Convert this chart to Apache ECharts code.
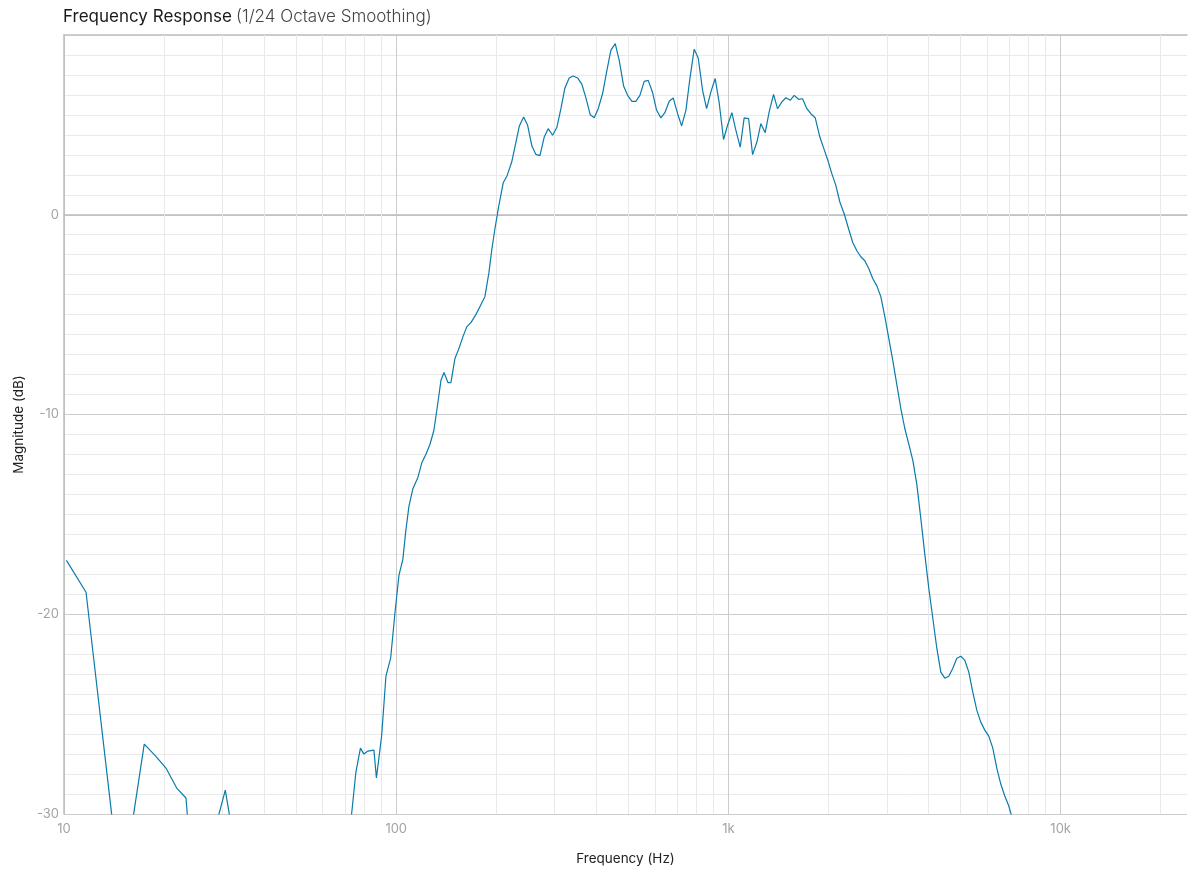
<!DOCTYPE html>
<html>
<head>
<meta charset="utf-8">
<title>Frequency Response</title>
<script src="https://cdn.jsdelivr.net/npm/echarts@6/dist/echarts.min.js"></script>
<style>
  html, body { margin: 0; padding: 0; background: #ffffff; }
  #chart { width: 1188px; height: 873px; }
</style>
</head>
<body>
<div id="chart"></div>
<script>
// Measured response, 1/24 octave smoothed (frequency in Hz, magnitude in dB)
const freqHz = [
  10.17, 11.65, 14.34, 15.80, 17.44, 18.88, 20.27, 21.84, 23.29, 24.28,
  28.28, 30.58, 32.94, 50, 71.55, 75.62, 78.03, 79.95, 82.19, 85.67,
  87.17, 90.37, 93.11, 96.2, 99.1, 101.9, 104.7, 106.9, 109.2, 112.3,
  116.2, 119.5, 122.8, 126.3, 129.8, 133.5, 136.3, 139.2, 143.1, 146.1,
  150.2, 154.4, 158.8, 163.2, 167.8, 173.7, 179.8, 184.9, 190.1, 194.1,
  198.2, 202.8, 209.9, 215.8, 222.6, 228.8, 234.6, 241.8, 248.6, 256.1,
  263.3, 270.7, 278.9, 286.7, 295.6, 304.5, 313.1, 321.9, 331.6, 340.9,
  351.5, 362.2, 372.3, 383.6, 394.4, 405.5, 418.0, 429.8, 442.8, 456.2,
  469.0, 483.5, 497.1, 512.1, 526.5, 541.3, 557.7, 573.4, 591.1, 607.8,
  626.1, 643.7, 663.2, 681.9, 703.0, 722.8, 744.6, 765.5, 788.7, 810.9,
  835.9, 859.4, 885.4, 912.1, 937.7, 966.6, 993.8, 1024, 1053, 1085,
  1115, 1150, 1182, 1218, 1252, 1290, 1326, 1367, 1405, 1448,
  1489, 1534, 1577, 1626, 1671, 1722, 1770, 1824, 1884, 1937,
  1992, 2047, 2105, 2164, 2230, 2299, 2368, 2435, 2503, 2573,
  2646, 2720, 2797, 2875, 2956, 3039, 3124, 3212, 3303, 3395,
  3491, 3589, 3690, 3793, 3900, 4009, 4122, 4238, 4357, 4479,
  4605, 4735, 4868, 5005, 5145, 5290, 5438, 5591, 5748, 5910,
  6076, 6247, 6422, 6603, 6788, 6979, 7258, 10000, 24000
];
const magDb = [
  -17.3, -18.9, -31.9, -31.2, -26.5, -27.1, -27.7, -28.7, -29.2, -32.9,
  -30.95, -28.8, -32.0, -34, -31.8, -27.9, -26.7, -27.0, -26.85, -26.8,
  -28.2, -26.1, -23.1, -22.2, -19.95, -18.05, -17.25, -15.8, -14.6, -13.7,
  -13.15, -12.4, -12.0, -11.5, -10.8, -9.4, -8.3, -7.9, -8.4, -8.4,
  -7.2, -6.7, -6.1, -5.6, -5.4, -5.0, -4.5, -4.1, -2.9, -1.7,
  -0.7, 0.3, 1.6, 1.97, 2.64, 3.56, 4.43, 4.9, 4.48, 3.44,
  3.02, 2.96, 3.89, 4.31, 3.98, 4.38, 5.31, 6.35, 6.85, 6.95,
  6.85, 6.53, 5.85, 5.01, 4.86, 5.31, 6.07, 7.15, 8.24, 8.57,
  7.73, 6.45, 5.98, 5.68, 5.68, 5.98, 6.68, 6.73, 6.12, 5.23,
  4.85, 5.11, 5.68, 5.85, 5.06, 4.45, 5.23, 6.82, 8.29, 7.85,
  6.23, 5.31, 6.15, 6.82, 5.61, 3.77, 4.48, 5.11, 4.23, 3.39,
  4.85, 4.81, 3.01, 3.64, 4.56, 4.11, 5.15, 6.03, 5.31, 5.65,
  5.86, 5.73, 5.98, 5.78, 5.81, 5.31, 5.06, 4.86, 3.89, 3.31,
  2.72, 2.06, 1.47, 0.64, 0.05, -0.7, -1.4, -1.8, -2.1, -2.3,
  -2.7, -3.2, -3.56, -4.1, -5.1, -6.2, -7.3, -8.5, -9.7, -10.7,
  -11.5, -12.3, -13.5, -15.2, -17.0, -18.7, -20.2, -21.7, -22.9, -23.2,
  -23.1, -22.7, -22.2, -22.1, -22.3, -22.9, -23.9, -24.8, -25.4, -25.8,
  -26.1, -26.7, -27.7, -28.5, -29.1, -29.6, -30.6, -40, -50
];

// Axis setup
const freqMin = 10;
const freqMax = 24000;
const dbMin = -30;
const dbMax = 9;
const dbLabelStep = 10;
// Minor frequency gridlines (2..9 within each decade)
const minorFreqs = [
  20, 30, 40, 50, 60, 70, 80, 90,
  200, 300, 400, 500, 600, 700, 800, 900,
  2000, 3000, 4000, 5000, 6000, 7000, 8000, 9000,
  20000
];
const freqTickLabels = { 10: '10', 100: '100', 1000: '1k', 10000: '10k' };

const FONT = 'Inter, "Liberation Sans", Arial, sans-serif';
const MAJOR = '#cccccc';
const MINOR = '#e9e9e9';
const AXIS = '#bdbdbd';

const points = freqHz.map((f, i) => [f, magDb[i]]);

// One split line per dB: every tenth one is a major line
const dbLineColors = [MAJOR, MINOR, MINOR, MINOR, MINOR, MINOR, MINOR, MINOR, MINOR, MINOR];

const chart = echarts.init(document.getElementById('chart'), null, { renderer: 'canvas' });

chart.setOption({
  animation: false,
  backgroundColor: '#ffffff',
  textStyle: { fontFamily: FONT },
  title: {
    left: 58,
    top: 3,
    text: '{a|Frequency Response} {b|(1/24 Octave Smoothing)}',
    textStyle: {
      rich: {
        a: { fontFamily: FONT, fontSize: 17, color: '#1a1a1a', fontWeight: 'normal' },
        b: { fontFamily: FONT, fontSize: 17, color: '#444444', fontWeight: 300 }
      }
    }
  },
  grid: { left: 64, right: 1, top: 35, bottom: 59, containLabel: false },
  xAxis: [
    {
      type: 'log',
      logBase: 10,
      min: freqMin,
      max: freqMax,
      name: 'Frequency (Hz)',
      nameLocation: 'middle',
      nameGap: 38,
      nameTextStyle: { color: '#222222', fontSize: 13.5, fontFamily: FONT },
      axisLine: { show: true, lineStyle: { color: AXIS, width: 1.5 } },
      axisTick: { show: false },
      axisLabel: {
        color: '#a3a3a3',
        fontSize: 13,
        fontFamily: FONT,
        margin: 9,
        showMaxLabel: false,
        formatter: v => freqTickLabels[Math.round(v)] || ''
      },
      splitLine: { show: true, showMaxLine: false, lineStyle: { color: MAJOR, width: 1 } }
    },
    {
      // top frame line
      type: 'log',
      logBase: 10,
      position: 'top',
      min: freqMin,
      max: freqMax,
      axisLine: { show: true, lineStyle: { color: AXIS, width: 1.5 } },
      axisTick: { show: false },
      axisLabel: { show: false },
      splitLine: { show: false }
    }
  ],
  yAxis: {
    type: 'value',
    min: dbMin,
    max: dbMax,
    interval: 1,
    name: 'Magnitude (dB)',
    nameLocation: 'middle',
    nameGap: 38,
    nameRotate: 90,
    nameTextStyle: { color: '#222222', fontSize: 13.5, fontFamily: FONT },
    axisLine: { show: true, lineStyle: { color: AXIS, width: 1.5 } },
    axisTick: { show: false },
    axisLabel: {
      interval: 0,
      color: '#a3a3a3',
      fontSize: 13,
      fontFamily: FONT,
      margin: 5,
      formatter: v => (Math.round(v) % dbLabelStep === 0 && v < dbMax) ? String(Math.round(v)) : ''
    },
    splitLine: { show: true, lineStyle: { color: dbLineColors, width: 1 } }
  },
  series: [
    {
      // minor frequency gridlines, kept beneath the response curve
      type: 'line',
      data: [],
      z: 1,
      silent: true,
      markLine: {
        z: 1,
        silent: true,
        animation: false,
        symbol: ['none', 'none'],
        label: { show: false },
        emphasis: { disabled: true },
        lineStyle: { color: MINOR, width: 1, type: 'solid' },
        data: minorFreqs.map(f => ({ xAxis: f }))
      }
    },
    {
      name: 'Magnitude',
      type: 'line',
      data: points,
      z: 6,
      clip: true,
      showSymbol: false,
      symbol: 'none',
      smooth: false,
      lineStyle: { color: '#0a7bab', width: 1.2 }
    }
  ]
});
</script>
</body>
</html>
